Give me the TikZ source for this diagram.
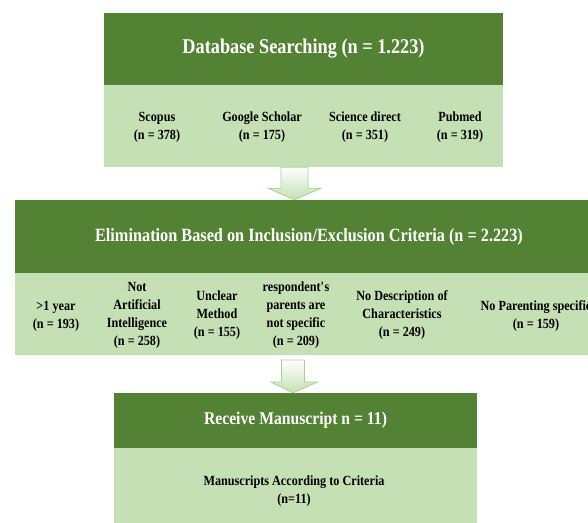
\documentclass[tikz,border=0pt]{standalone}
\usepackage{fontspec}
\setmainfont[FakeStretch=0.87]{Liberation Serif}
\usetikzlibrary{calc}
\definecolor{dkgreen}{HTML}{548235}
\definecolor{ltgreen}{HTML}{C5E0B4}
\definecolor{arrline}{HTML}{A9D18E}
\tikzset{
  darkbox/.style={rectangle, fill=dkgreen, draw=none, inner sep=0pt, text=white, font=\bfseries},
  lightbox/.style={rectangle, fill=ltgreen, draw=none, inner sep=0pt},
  item/.style={align=center, inner sep=0pt, font=\fontsize{14pt}{18pt}\selectfont\bfseries},
  blockarrow/.style={draw=arrline, line width=0.8pt, top color=white, bottom color=ltgreen, line join=miter},
}
\begin{document}
\begin{tikzpicture}[x=1pt,y=-1pt]
\useasboundingbox (0,0) rectangle (588,522);
% top block
\node[darkbox, minimum width=399pt, minimum height=72pt] (db) at (303.5,49)
  {\fontsize{21pt}{24pt}\selectfont Database Searching (n = 1.223)};
\node[lightbox, minimum width=399pt, minimum height=82pt] (dbl) at (303.5,126) {};
\node[item] (s1) at (157,127) {Scopus\\(n = 378)};
\node[item] (s2) at (262,127) {Google Scholar\\(n = 175)};
\node[item] (s3) at (365,127) {Science direct\\(n = 351)};
\node[item] (s4) at (460,127) {Pubmed\\(n = 319)};
% middle block
\node[darkbox, minimum width=588pt, minimum height=73pt] (el) at (309,236.5)
  {\fontsize{18.7pt}{22pt}\selectfont Elimination Based on Inclusion/Exclusion Criteria (n = 2.223)};
\node[lightbox, minimum width=588pt, minimum height=82pt] (ell) at (309,314) {};
\node[item] (e1) at (56,316) {>1 year\\(n = 193)};
\node[item] (e2) at (137,315.5) {Not\\Artificial\\Intelligence\\(n = 258)};
\node[item] (e3) at (217,315) {Unclear\\Method\\(n = 155)};
\node[item] (e4) at (296,315.5) {respondent\textquotesingle s\\parents are\\not specific\\(n = 209)};
\node[item] (e5) at (402,315) {No Description of\\Characteristics\\(n = 249)};
\node[item] (e6) at (536,316) {No Parenting specific\\(n = 159)};
% bottom block
\node[darkbox, minimum width=363pt, minimum height=55pt] (rm) at (295.5,420.5)
  {\fontsize{18pt}{22pt}\selectfont Receive Manuscript n = 11)};
\node[lightbox, minimum width=363pt, minimum height=78pt, anchor=north] (rml) at (rm.south) {};
\node[item] (m1) at (294,491) {Manuscripts According to Criteria\\(n=11)};
% arrows
\coordinate (a1) at (dbl.south -| 294.5,0);
\coordinate (t1) at (el.north -| 294.5,0);
\draw[blockarrow] ($(a1)+(-13.5,0)$) -- ++(0,21) -- ++(-13,0) -- (t1) -- ($(a1)+(26.5,21)$) -- ++(-13,0) -- ($(a1)+(13.5,0)$) -- cycle;
\coordinate (a2) at (293,360);
\coordinate (t2) at (rm.north -| 293,0);
\draw[blockarrow] ($(a2)+(-11.5,0)$) -- ++(0,22) -- ++(-10.5,0) -- (t2) -- ($(a2)+(24.5,22)$) -- ++(-13,0) -- ($(a2)+(11.5,0)$) -- cycle;
\end{tikzpicture}
\end{document}
